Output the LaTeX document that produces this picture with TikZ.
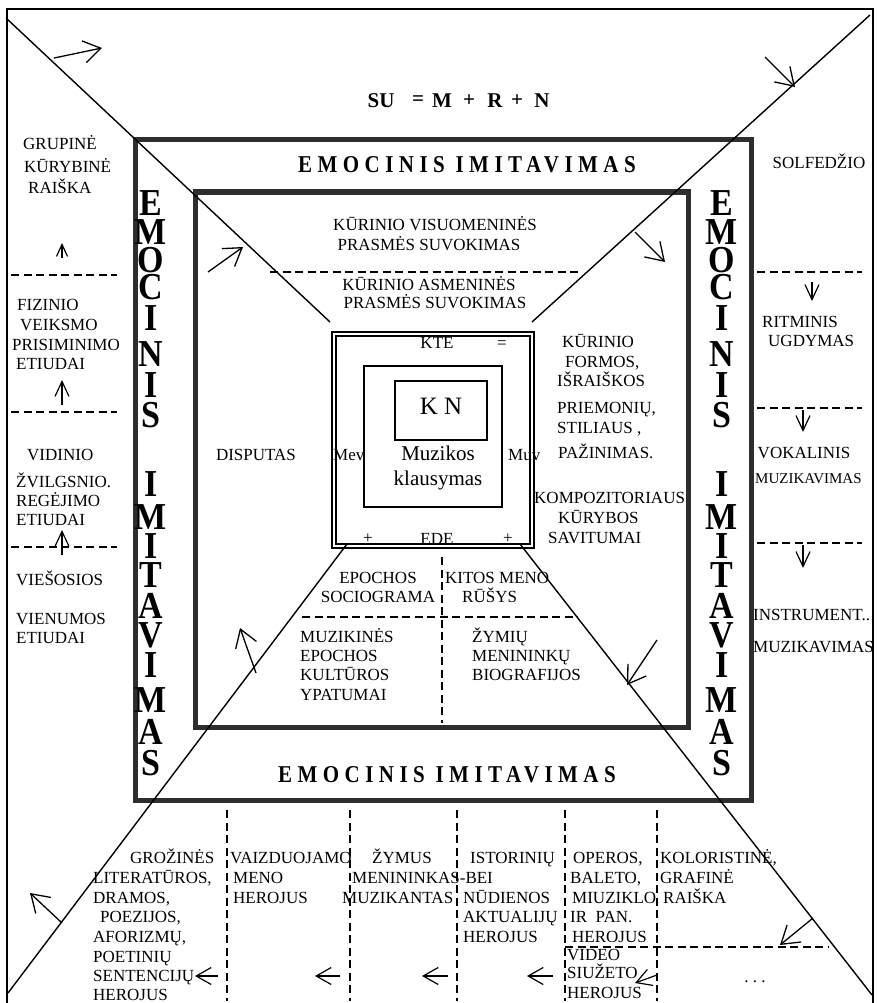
\documentclass[tikz,border=0pt]{standalone}
\usepackage{fontspec}
\usepackage{graphicx}
\setmainfont{Liberation Serif}
\newfontfamily\spacedfont[LetterSpace=26]{Liberation Serif}
\usetikzlibrary{arrows.meta}
\newcounter{tl}
\newcommand\TL[4][west]{\stepcounter{tl}\node[txt,anchor=#1] (t\arabic{tl}) at (#2,#3) {#4};}
\newcommand\AR[6]{\coordinate (#1s) at (#3,#4);\coordinate (#1e) at (#5,#6);\draw[#2] (#1s) -- (#1e);}
\tikzset{
  txt/.style={font=\fontsize{17}{20}\selectfont, inner sep=0pt, text height=11.25pt, text depth=0pt},
  frame/.style={line width=5pt, draw=black!82},
  diag/.style={line width=1.4pt},
  dsh/.style={line width=1.2pt, dash pattern=on 8pt off 4.5pt},
  box/.style={line width=1.5pt},
  bigarr/.style={line width=1.3pt, -{Straight Barb[length=17pt,width=22pt]}},
  botarr/.style={line width=1.2pt, -{Straight Barb[length=15pt,width=17pt]}},
  midarr/.style={line width=1.2pt, -{Straight Barb[length=15pt,width=14pt]}},
  smallarr/.style={line width=1.2pt, -{Straight Barb[length=12pt,width=11pt]}},
  vlet/.style={inner sep=0pt, font=\fontsize{34}{34}\selectfont\bfseries},
  spaced/.style={inner sep=0pt, font=\fontsize{21}{21}\spacedfont\bfseries},
  sumtxt/.style={inner sep=0pt, font=\fontsize{21}{21}\selectfont\bfseries}
}
\begin{document}
\begin{tikzpicture}[x=1pt,y=-1pt]
\fill[white] (0,0) rectangle (876,1003);
\useasboundingbox (0,0) rectangle (876,1003);
% outer frame
\draw[line width=1.8pt] (7,1003) -- (7,9) -- (873,9) -- (873,1003);
% thick frames
\draw[frame] (135,140) rectangle (751,800);
\draw[frame] (195,192) rectangle (688,727);
% diagonals
\coordinate (dTL) at (6,18); \coordinate (cTL) at (330,322);
\coordinate (dTR) at (870,15); \coordinate (cTR) at (532,322);
\coordinate (dBL) at (8,993); \coordinate (cBL) at (347,544);
\coordinate (dBR) at (872,995); \coordinate (cBR) at (520,544);
\draw[diag] (dTL) -- (cTL);
\draw[diag] (dTR) -- (cTR);
\draw[diag] (cBL) -- (dBL);
\draw[diag] (cBR) -- (dBR);
% central boxes text under lines
\TL[center]{437}{539}{EDE}
\draw[line width=1.8pt] (332,332) rectangle (534,548);
\draw[line width=1.4pt] (336,336) rectangle (530,544);
\draw[box] (364,366) rectangle (502,507);
\draw[box] (395,381) rectangle (487,440);
\TL[center]{437}{343}{KTE}
\TL[center]{502}{343}{=}
\TL[center]{368}{538}{+}
\TL[center]{508}{538}{+}
\node[inner sep=0pt, anchor=base west, font=\fontsize{17}{20}\selectfont] (mev) at (333,460) {Mev};
\node[inner sep=0pt, anchor=base west, font=\fontsize{17}{20}\selectfont] (muv) at (508,460) {Muv};
\node[inner sep=0pt, font=\fontsize{25}{25}\selectfont, text height=16.5pt, text depth=0pt] (kn) at (441,406) {K N};
\node[inner sep=0pt, anchor=base, font=\fontsize{21}{24}\selectfont] (muz) at (438,460) {Muzikos};
\node[inner sep=0pt, anchor=base, font=\fontsize{21}{24}\selectfont] (kla) at (438,485) {klausymas};
% formula
\foreach \s/\xx [count=\k] in {SU/381,=/418,M/442,+/469,R/495,+/517,N/542}
  \node[sumtxt] (su\k) at (\xx,101) {\s};
% horizontal spaced titles
\node[spaced] (emt) at (467,165) {\scalebox{1}[1.15]{EMOCINIS IMITAVIMAS}};
\node[spaced] (emb) at (447,775) {\scalebox{1}[1.15]{EMOCINIS IMITAVIMAS}};
% vertical letters
\foreach \ch/\yy [count=\k] in {E/203,M/232,O/260,C/287,I/318,N/354,I/385,S/415,I/484,M/517,I/546,T/575,A/606,V/635,I/665,M/700,A/732,S/763}{
  \node[vlet] (vl\k) at (151,\yy) {\scalebox{1}[1.12]{\ch}};
  \node[vlet] (vr\k) at (722,\yy) {\scalebox{1}[1.12]{\ch}};
}
% dashed lines
\draw[dsh] (11,275) -- (117,275);
\draw[dsh] (11,412) -- (117,412);
\draw[dsh] (11,547) -- (117,547);
\draw[dsh] (757,272) -- (862,272);
\draw[dsh] (757,408) -- (862,408);
\draw[dsh] (757,543) -- (862,543);
\draw[dsh] (270,272) -- (578,272);
\draw[dsh] (442,557) -- (442,723);
\draw[dsh] (302,617) -- (578,617);
\foreach \xx in {227,350,457,565,657} \draw[dsh] (\xx,810) -- (\xx,1001);
\draw[dsh] (565,947) -- (828,947);
% arrows
\AR{a1}{bigarr}{54}{58}{102}{48}
\AR{a2}{bigarr}{765}{57}{795}{87}
\AR{a3}{bigarr}{208}{272}{243}{247}
\AR{a4}{bigarr}{635}{232}{665}{262}
\AR{a5}{bigarr}{256}{673}{240}{628}
\AR{a6}{bigarr}{657}{640}{627}{685}
\AR{a7}{bigarr}{62}{923}{30}{893}
\AR{a8}{bigarr}{813}{918}{780}{945}
\AR{a9}{smallarr}{62}{258}{62}{243}
\AR{a10}{midarr}{62}{405}{62}{380}
\AR{a11}{midarr}{62}{555}{62}{530}
\AR{a12}{midarr}{812}{282}{812}{301}
\AR{a13}{midarr}{803}{410}{803}{432}
\AR{a14}{midarr}{803}{545}{803}{568}
\AR{a15}{botarr}{218}{976}{195}{976}
\AR{a16}{botarr}{340}{976}{315}{976}
\AR{a17}{botarr}{448}{976}{422}{976}
\AR{a18}{botarr}{553}{976}{527}{976}
\AR{a19}{botarr}{657}{975}{635}{983}
% left column
\TL{23}{144}{GRUPINĖ}
\TL{24}{167}{KŪRYBINĖ}
\TL{28}{188}{RAIŠKA}
\TL{17}{305}{FIZINIO}
\TL{20}{325}{VEIKSMO}
\TL{12}{345}{PRISIMINIMO}
\TL{16}{364}{ETIUDAI}
\TL{27}{455}{VIDINIO}
\TL{16}{482}{ŽVILGSNIO.}
\TL{16}{501}{REGĖJIMO}
\TL{16}{520}{ETIUDAI}
\TL{16}{580}{VIEŠOSIOS}
\TL{16}{619}{VIENUMOS}
\TL{16}{638}{ETIUDAI}
% right column
\TL[center]{819}{163}{SOLFEDŽIO}
\TL{762}{322}{RITMINIS}
\TL{768}{341}{UGDYMAS}
\TL[center]{804}{453}{VOKALINIS}
\TL{755}{478}{\fontsize{15}{15}\selectfont MUZIKAVIMAS}
\TL{753}{615}{INSTRUMENT..}
\TL{753}{647}{MUZIKAVIMAS}
% centre top
\TL[center]{435}{225}{KŪRINIO VISUOMENINĖS}
\TL[center]{429}{245}{PRASMĖS SUVOKIMAS}
\TL[center]{429}{285}{KŪRINIO ASMENINĖS}
\TL[center]{435}{303}{PRASMĖS SUVOKIMAS}
% centre right
\TL{562}{342}{KŪRINIO}
\TL{565}{362}{FORMOS,}
\TL{557}{381}{IŠRAIŠKOS}
\TL{557}{408}{PRIEMONIŲ,}
\TL{557}{428}{STILIAUS ,}
\TL{558}{453}{PAŽINIMAS.}
\TL{534}{498}{KOMPOZITORIAUS}
\TL{558}{518}{KŪRYBOS}
\TL{548}{538}{SAVITUMAI}
% centre left
\TL[center]{256}{455}{DISPUTAS}
% centre bottom
\TL[center]{378}{578}{EPOCHOS}
\TL[center]{378}{597}{SOCIOGRAMA}
\TL{445}{578}{KITOS MENO}
\TL{462}{597}{RŪŠYS}
\TL{300}{637}{MUZIKINĖS}
\TL{300}{656}{EPOCHOS}
\TL{300}{675}{KULTŪROS}
\TL{300}{695}{YPATUMAI}
\TL{472}{637}{ŽYMIŲ}
\TL{472}{656}{MENININKŲ}
\TL{472}{675}{BIOGRAFIJOS}
% bottom row
\TL{130}{858}{GROŽINĖS}
\TL{93}{878}{LITERATŪROS,}
\TL{93}{898}{DRAMOS,}
\TL{100}{917}{POEZIJOS,}
\TL{93}{937}{AFORIZMŲ,}
\TL{93}{957}{POETINIŲ}
\TL{93}{976}{SENTENCIJŲ}
\TL{93}{995}{HEROJUS}
\TL{230}{858}{VAIZDUOJAMO}
\TL{233}{878}{MENO}
\TL{233}{898}{HEROJUS}
\TL{372}{858}{ŽYMUS}
\TL{352}{878}{MENININKAS-BEI}
\TL{342}{898}{MUZIKANTAS}
\TL{470}{858}{ISTORINIŲ}
\TL{463}{898}{NŪDIENOS}
\TL{463}{917}{AKTUALIJŲ}
\TL{463}{937}{HEROJUS}
\TL{573}{858}{OPEROS,}
\TL{570}{878}{BALETO,}
\TL{572}{898}{MIUZIKLO}
\TL{570}{917}{IR\ \ PAN.}
\TL{572}{937}{HEROJUS}
\TL{567}{955}{VIDEO}
\TL{567}{973}{SIUŽETO}
\TL{567}{993}{HEROJUS}
\TL{660}{858}{KOLORISTINĖ,}
\TL{660}{878}{GRAFINĖ}
\TL{663}{898}{RAIŠKA}
\TL[center]{755}{977}{.\ .\ .}
\end{tikzpicture}
\end{document}
